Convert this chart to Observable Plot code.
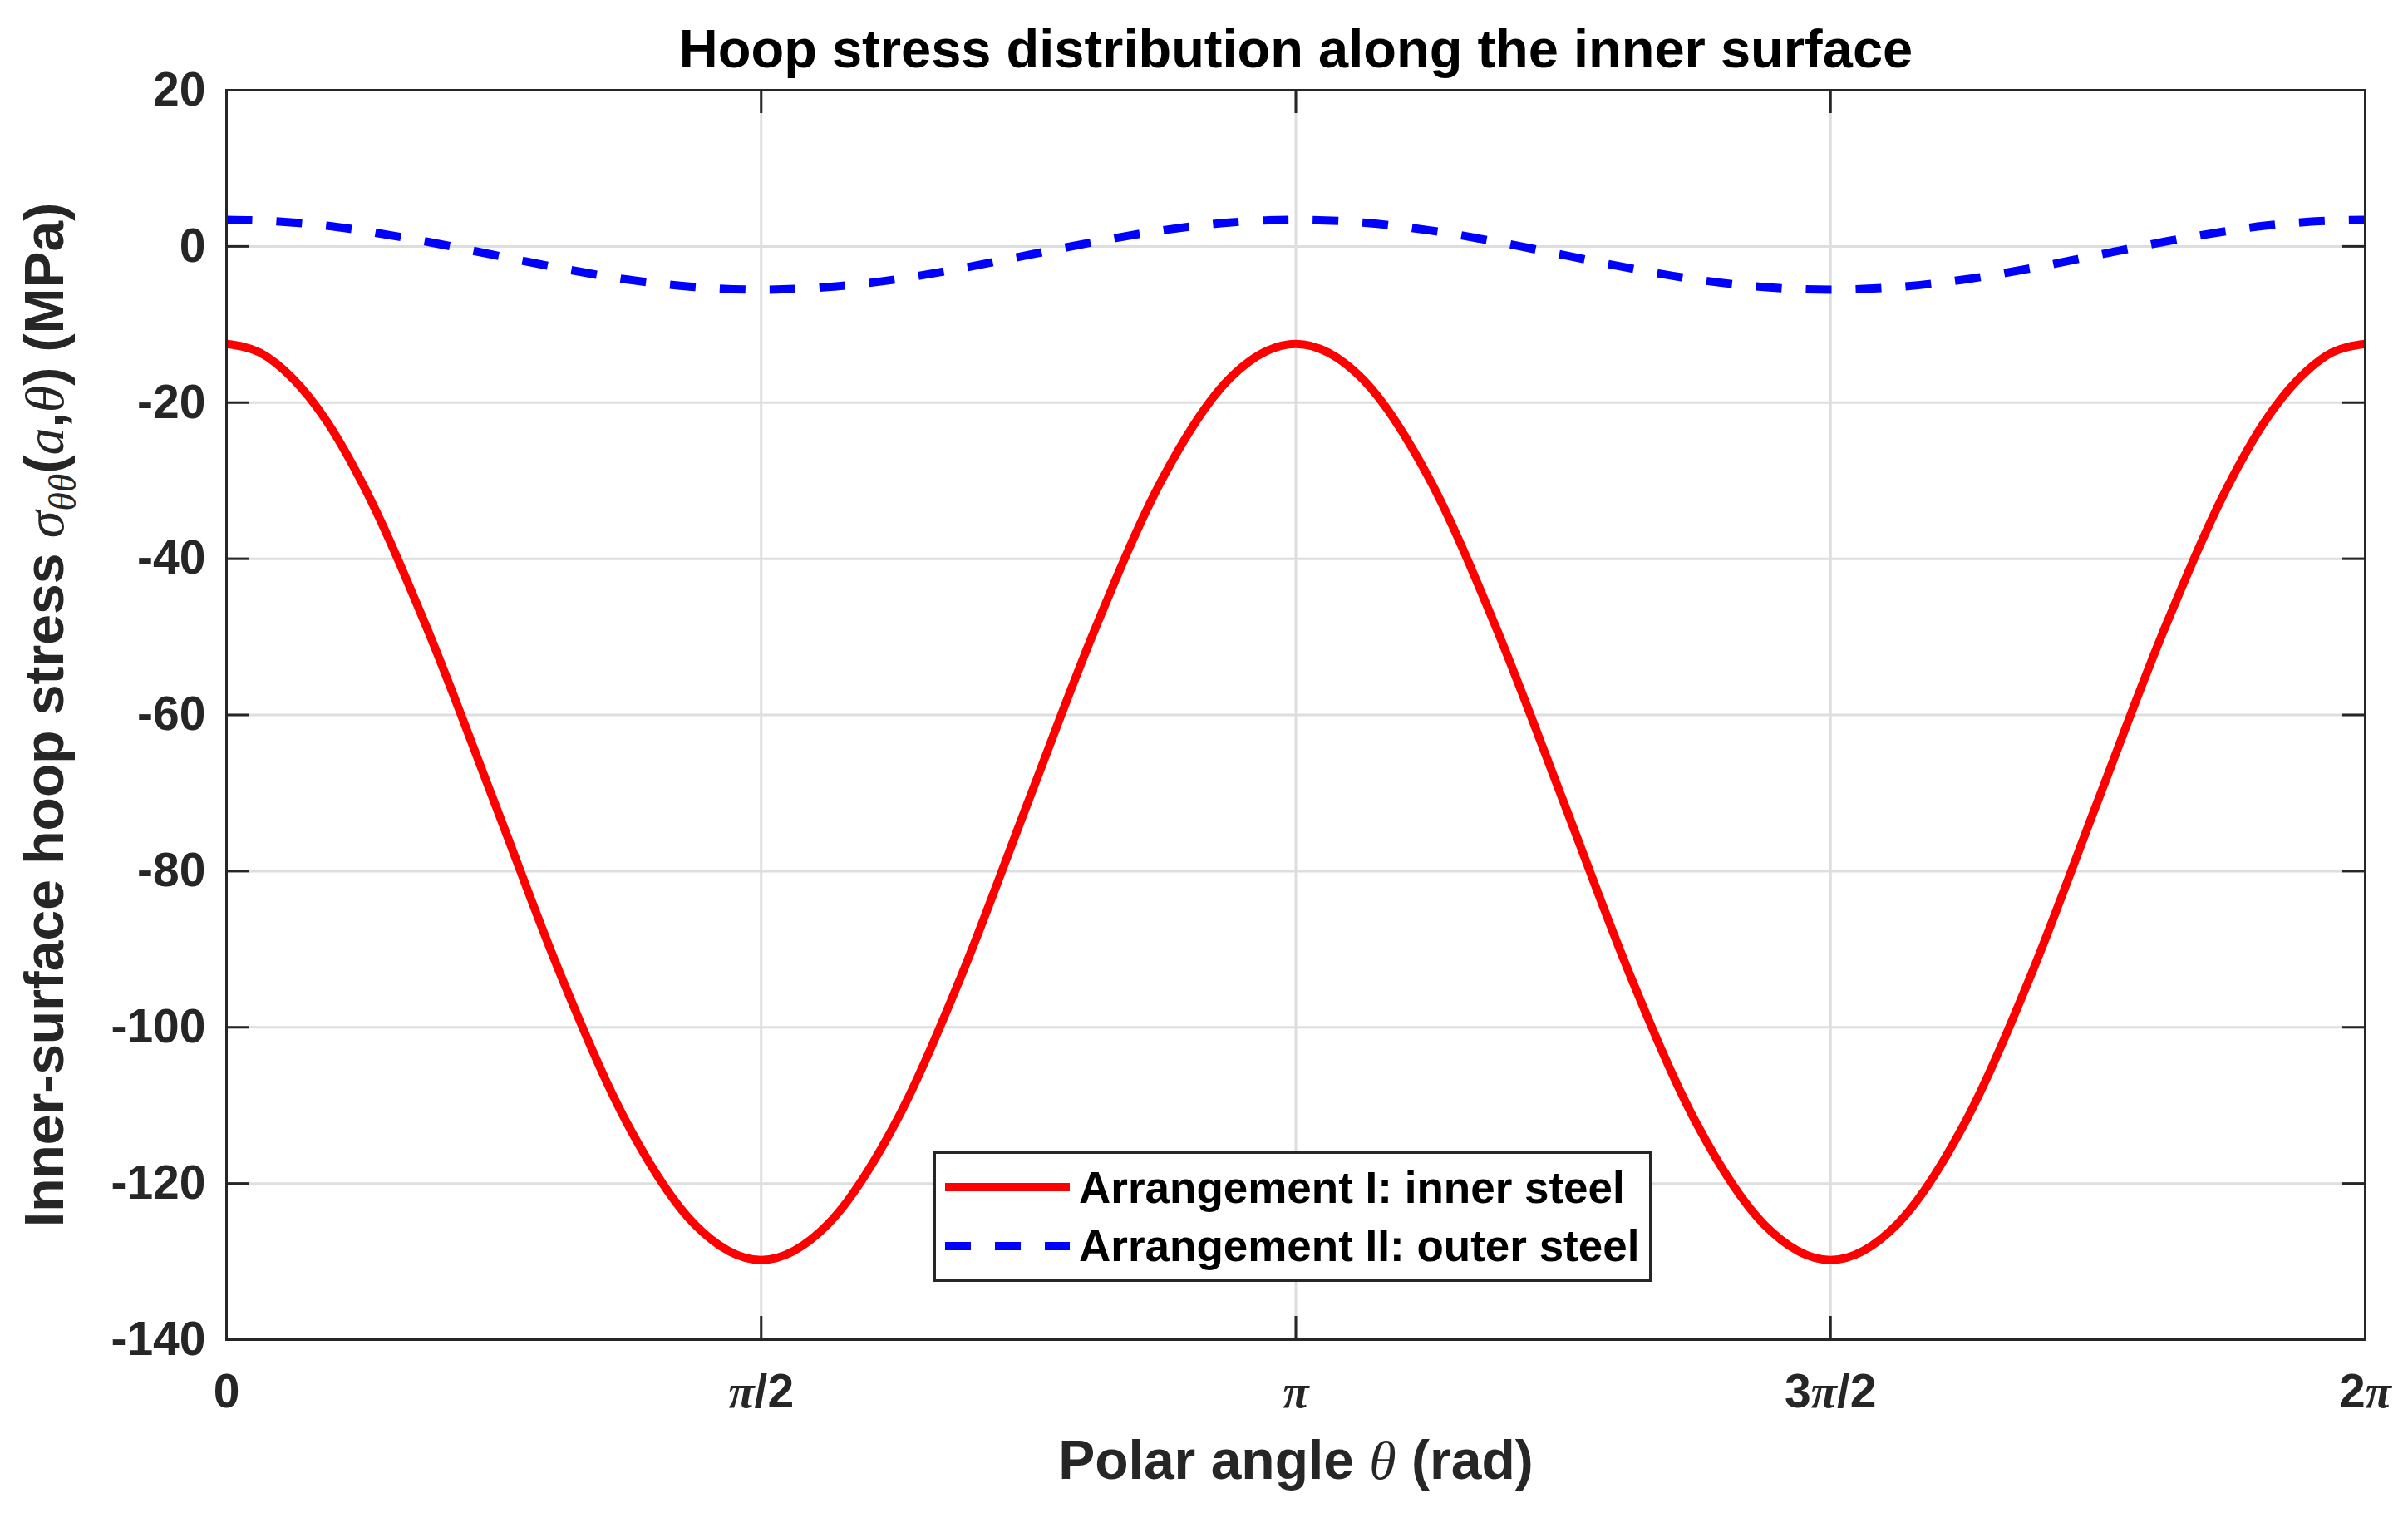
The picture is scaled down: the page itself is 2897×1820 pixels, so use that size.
<!DOCTYPE html>
<html>
<head>
<meta charset="utf-8">
<script src="https://cdn.jsdelivr.net/npm/d3@7"></script>
<script src="https://cdn.jsdelivr.net/npm/@observablehq/plot@0.6"></script>
<style>
html, body { margin: 0; padding: 0; background: #fff; }
#wrap { position: relative; width: 2897px; height: 1820px; overflow: hidden; }
#wrap > svg { display: block; }
#legend { position: absolute; left: 1123px; top: 1385px; }
</style>
</head>
<body>
<div id="wrap"></div>
<script>
// ---- data ----
// polar angle sample points, in multiples of π
const thetaPi = [0, 0.03125, 0.0625, 0.09375, 0.125, 0.1875, 0.25, 0.3125, 0.375, 0.4375, 0.5,
  0.5625, 0.625, 0.6875, 0.75, 0.8125, 0.875, 0.9375, 1,
  1.0625, 1.125, 1.1875, 1.25, 1.3125, 1.375, 1.4375, 1.5,
  1.5625, 1.625, 1.6875, 1.75, 1.8125, 1.875, 1.90625, 1.9375, 1.96875, 2];
// Arrangement I: inner steel (MPa)
const innerSteel = [-12.5, -13.6, -17.0, -22.4, -29.8, -48.9, -71.0, -93.3, -112.4, -125.2, -129.8,
  -125.2, -112.4, -93.3, -71.0, -48.9, -29.8, -17.0, -12.5,
  -17.0, -29.8, -48.9, -71.0, -93.3, -112.4, -125.2, -129.8,
  -125.2, -112.4, -93.3, -71.0, -48.9, -29.8, -22.4, -17.0, -13.6, -12.5];
// Arrangement II: outer steel (MPa)
const outerSteel = [3.4, 3.3, 3.05, 2.65, 2.05, 0.6, -1.1, -2.8, -4.25, -5.2, -5.55,
  -5.2, -4.25, -2.8, -1.1, 0.6, 2.05, 3.05, 3.4,
  3.05, 2.05, 0.6, -1.1, -2.8, -4.25, -5.2, -5.55,
  -5.2, -4.25, -2.8, -1.1, 0.6, 2.05, 2.65, 3.05, 3.3, 3.4];

const yTicks = [-140, -120, -100, -80, -60, -40, -20, 0, 20];
const xTicksPi = [0, 0.5, 1, 1.5, 2];
const xTickLabels = ["0", "π/2", "π", "3π/2", "2π"];
const seriesNames = ["Arrangement I: inner steel", "Arrangement II: outer steel"];
const seriesColors = ["#ff0000", "#0000ff"];
const titleText = "Hoop stress distribution along the inner surface";
const xLabelText = "Polar angle θ (rad)";
const yLabelText = "Inner-surface hoop stress σθθ(a,θ) (MPa)";

// ---- build ----
const rows = thetaPi.map((t, i) => ({ theta: t * Math.PI, inner: innerSteel[i], outer: outerSteel[i] }));
const xTicks = xTicksPi.map(t => t * Math.PI);

const W = 2897, H = 1820, mL = 272, mR = 52, mT = 108, mB = 209;
const fw = W - mL - mR, fh = H - mT - mB;
const tickLen = 28;
const AX = "#262626";
const FONT = '"Liberation Sans", Arial, Helvetica, sans-serif';
const MATH = '"Liberation Serif", "DejaVu Serif", serif';

const plot = Plot.plot({
  width: W, height: H,
  marginLeft: mL, marginRight: mR, marginTop: mT, marginBottom: mB,
  style: { fontFamily: FONT, color: AX, background: "#fff", overflow: "visible" },
  x: { domain: [0, 2 * Math.PI] },
  y: { domain: [-140, 20] },
  marks: [
    Plot.gridY(yTicks, { stroke: "#dedede", strokeOpacity: 1, strokeWidth: 3 }),
    Plot.gridX(xTicks, { stroke: "#dedede", strokeOpacity: 1, strokeWidth: 3 }),
    Plot.line(rows, { x: "theta", y: "inner", stroke: seriesColors[0], strokeWidth: 10, curve: "monotone-x", strokeLinecap: "butt" }),
    Plot.line(rows, { x: "theta", y: "outer", stroke: seriesColors[1], strokeWidth: 10, curve: "monotone-x", strokeLinecap: "butt", strokeDasharray: "31,29" }),
    Plot.frame({ stroke: AX, strokeWidth: 3 }),
    Plot.ruleY(yTicks, { y: d => d, insetRight: fw - tickLen, stroke: AX, strokeWidth: 3 }),
    Plot.ruleY(yTicks, { y: d => d, insetLeft: fw - tickLen, stroke: AX, strokeWidth: 3 }),
    Plot.ruleX(xTicks, { x: d => d, insetTop: fh - tickLen, stroke: AX, strokeWidth: 3 }),
    Plot.ruleX(xTicks, { x: d => d, insetBottom: fh - tickLen, stroke: AX, strokeWidth: 3 }),
    Plot.axisY({ ticks: yTicks, tickSize: 0, tickPadding: 25, tickFormat: d => String(d), fontSize: 57, fontWeight: "bold", label: null }),
    Plot.axisX({ ticks: xTicks, tickSize: 0, tickPadding: 41, tickFormat: d => xTickLabels[xTicks.indexOf(d)], fontSize: 57, fontWeight: "bold", label: null }),
    Plot.text([titleText], { frameAnchor: "top", dy: -28, lineAnchor: "bottom", text: d => d, fontSize: 65, fontWeight: "bold", fill: "#000" }),
    Plot.text([xLabelText], { frameAnchor: "bottom", dy: 167, lineAnchor: "bottom", text: d => d, fontSize: 66, fontWeight: "bold", fill: AX }),
    Plot.text([yLabelText], { frameAnchor: "left", dx: -197, rotate: -90, textAnchor: "middle", lineAnchor: "bottom", text: d => d, fontSize: 66, fontWeight: "bold", fill: AX })
  ]
});
document.getElementById("wrap").appendChild(plot);

// ---- rich text: italic math letters, subscript ----
function addSpan(el, str, opt = {}) {
  const ts = document.createElementNS("http://www.w3.org/2000/svg", "tspan");
  ts.textContent = str;
  if (opt.math) { ts.setAttribute("font-family", MATH); ts.setAttribute("font-style", "italic"); ts.setAttribute("font-weight", opt.weight || "normal"); }
  if (opt.size) ts.setAttribute("font-size", opt.size);
  if (opt.dy) ts.setAttribute("dy", opt.dy);
  el.appendChild(ts);
}
d3.select(plot).selectAll("text").each(function () {
  const s = this.textContent;
  if (s === yLabelText) {
    this.textContent = "";
    addSpan(this, "Inner-surface hoop stress ");
    addSpan(this, "σ", { math: true });
    addSpan(this, "θθ", { math: true, size: "46px", dy: "15" });
    addSpan(this, "(", { dy: "-15" });
    addSpan(this, "a", { math: true });
    addSpan(this, ",");
    addSpan(this, "θ", { math: true });
    addSpan(this, ") (MPa)");
  } else if (/[πθσ]/.test(s)) {
    this.textContent = "";
    let buf = "";
    for (const ch of s) {
      if (/[πθσ]/.test(ch)) {
        if (buf) { addSpan(this, buf); buf = ""; }
        addSpan(this, ch, { math: true, weight: ch === "π" ? "bold" : "normal" });
      } else buf += ch;
    }
    if (buf) addSpan(this, buf);
  }
});

// ---- legend ----
const leg = d3.select("#wrap").append("svg").attr("id", "legend").attr("width", 864).attr("height", 157);
leg.append("rect").attr("x", 1.5).attr("y", 1.5).attr("width", 861).attr("height", 154)
  .attr("fill", "#fff").attr("stroke", AX).attr("stroke-width", 3);
const rowLineY = [43, 114], rowTextY = [62, 132];
seriesNames.forEach((name, i) => {
  leg.append("line").attr("x1", 14).attr("x2", 164).attr("y1", rowLineY[i]).attr("y2", rowLineY[i])
    .attr("stroke", seriesColors[i]).attr("stroke-width", 10)
    .attr("stroke-dasharray", i === 1 ? "31,29" : null);
  leg.append("text").attr("x", 175).attr("y", rowTextY[i])
    .attr("font-family", FONT).attr("font-weight", "bold").attr("font-size", 53).attr("fill", "#000")
    .text(name);
});
</script>
</body>
</html>
